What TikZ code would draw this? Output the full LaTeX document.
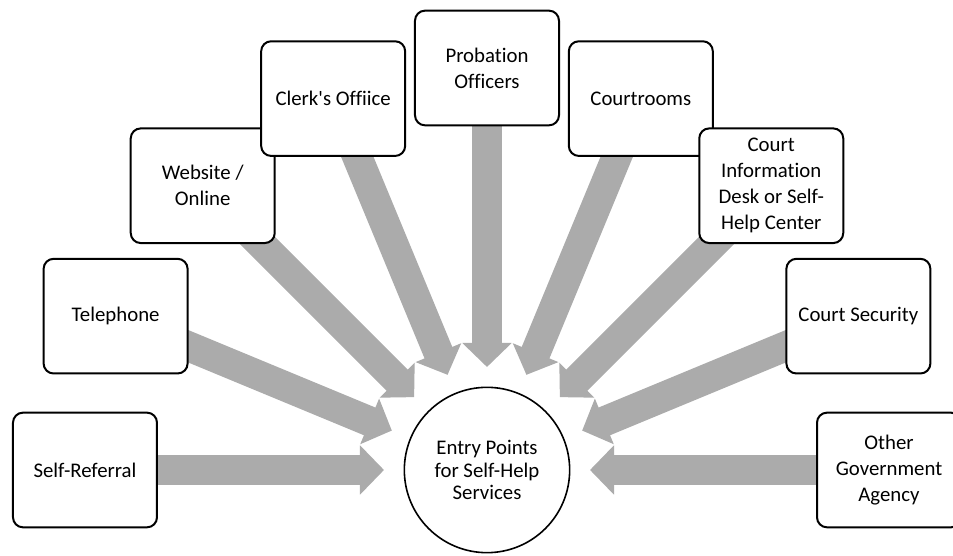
\documentclass[tikz,border=0pt]{standalone}
\usepackage{fontspec}
\setmainfont{Carlito}[Ligatures=NoCommon]
\usetikzlibrary{arrows.meta,backgrounds}
\definecolor{spokegray}{RGB}{171,171,171}
\tikzset{
  entry/.style={draw, line width=1.5pt, rounded corners=7.5pt, fill=white,
    minimum width=108pt, minimum height=86pt, align=center,
    font=\fontsize{15.6}{19.5}\selectfont},
  hub/.style={circle, draw, line width=1.2pt, fill=white, minimum size=124pt,
    inner sep=0pt, align=center, font=\fontsize{15.6}{17}\selectfont},
  spoke/.style={spokegray, line width=22.5pt, -{Triangle[width=36pt,length=18pt]}}
}
\begin{document}
\begin{tikzpicture}[x=0.75pt,y=0.75pt]
		\useasboundingbox (-487,-86) rectangle (466,470);
		\clip (-487,-86) rectangle (466,470);
		% entry points, left to right
		\node[entry] (self) at (180:402) {Self-Referral};
		\node[entry] (phone) at (157.5:402) {Telephone};
		\node[entry] (web) at (135:402) {Website /\\Online};
		\node[entry] (clerk) at (112.5:402) {Clerk\textquotesingle s Offiice};
		\node[entry] (prob) at (90:402) {Probation\\Officers};
		\node[entry] (rooms) at (67.5:402) {Courtrooms};
		\node[entry] (info) at (45:402) {Court\\Information\\Desk or Self-\\Help Center};
		\node[entry] (secur) at (22.5:402) {Court Security};
		\node[entry] (gov) at (0:402) {Other\\Government\\Agency};
		\node[hub] (hub) at (0,0) {Entry Points\\for Self-Help\\Services};
		% arrows behind the boxes
		\begin{pgfonlayer}{background}
		\foreach \n/\a in {self/180, phone/157.5, web/135, clerk/112.5, prob/90, rooms/67.5, info/45, secur/22.5, gov/0}
			\draw[spoke] (\n.center) -- (\a:103);
		\end{pgfonlayer}
\end{tikzpicture}
\end{document}
